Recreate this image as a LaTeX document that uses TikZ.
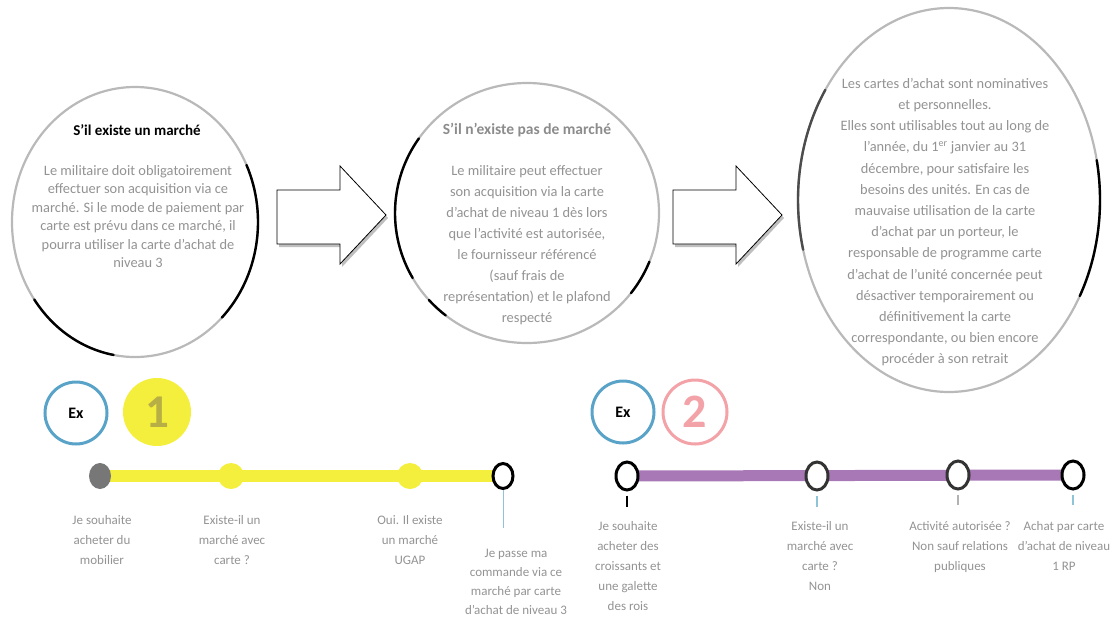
\documentclass[tikz,border=0pt]{standalone}
\usepackage{fontspec}
\setmainfont{Carlito}
\usetikzlibrary{shapes.geometric,backgrounds}

\definecolor{txtgray}{HTML}{939393}
\definecolor{exblue}{HTML}{5AA3C8}
\definecolor{yel}{HTML}{F4EE3C}
\definecolor{onecol}{HTML}{B7AE45}
\definecolor{pinkc}{HTML}{F3A2A8}
\definecolor{purp}{HTML}{A878B6}
\definecolor{dotgray}{HTML}{777777}
\definecolor{tickblue}{HTML}{8EC3D8}

\tikzset{
  bigcircle/.style={ellipse, draw=gray!55, line width=2.2pt, fill=white, inner sep=0},
  sketch/.style={black, line width=2.4pt, line cap=round},
  body/.style={font=\fontsize{14.4}{#1}\selectfont, text=txtgray, align=center, anchor=north, inner sep=0},
  lbl/.style={font=\fontsize{13}{20}\selectfont, text=txtgray, align=center, anchor=north, inner sep=0},
  exmark/.style={circle, draw=exblue, line width=3pt, minimum size=62pt, font=\fontsize{16}{18}\selectfont\bfseries},
  ydot/.style={circle, fill=yel, minimum size=26pt, inner sep=0},
  ring/.style={ellipse, draw=black, fill=white, line width=3pt, minimum width=22pt, minimum height=28pt, inner sep=0},
  tick/.style={line width=1.6pt}
}

\begin{document}
\begin{tikzpicture}[x=1pt, y=-1pt]
	\useasboundingbox (0,0) rectangle (1115,619);

	% the three bubbles
	\node[bigcircle, minimum width=246pt, minimum height=270pt] (c1) at (135,222) {};
	\node[bigcircle, minimum width=264pt, minimum height=260pt] (c2) at (527,213) {};
	\node[bigcircle, minimum width=302pt, minimum height=384pt] (c3) at (949,200) {};
	\draw[sketch] (135,222) ++(100:123 and 135) arc[start angle=100, end angle=145, x radius=123, y radius=135];
	\draw[sketch] (135,222) ++(-25:123 and 135) arc[start angle=-25, end angle=45, x radius=123, y radius=135];
	\draw[sketch] (527,213) ++(150:132 and 130) arc[start angle=150, end angle=215, x radius=132, y radius=130];
	\draw[sketch] (527,213) ++(128:132 and 130) arc[start angle=128, end angle=138, x radius=132, y radius=130];
	\draw[sketch] (527,213) ++(22:132 and 130) arc[start angle=22, end angle=38, x radius=132, y radius=130];
	\draw[sketch, black!70] (949,200) ++(165:151 and 192) arc[start angle=165, end angle=215, x radius=151, y radius=192];
	\draw[sketch] (949,200) ++(-12:151 and 192) arc[start angle=-12, end angle=30, x radius=151, y radius=192];

	\node[font=\fontsize{15}{17}\selectfont\bfseries, inner sep=0] (t1) at (137,130) {S'il existe un marché};
	\node[body=18.5pt] (b1) at (138,165) {Le militaire doit obligatoirement\\effectuer son acquisition via ce\\marché. Si le mode de paiement par\\carte est prévu dans ce marché, il\\pourra utiliser la carte d'achat de\\niveau 3};
	\node[font=\fontsize{15.5}{17}\selectfont\bfseries, text=gray!90, inner sep=0] (t2) at (527,130) {S'il n'existe pas de marché};
	\node[body=21pt] (b2) at (527,165) {Le militaire peut effectuer\\son acquisition via la carte\\d'achat de niveau 1 dès lors\\que l'activité est autorisée,\\le fournisseur référencé\\(sauf frais de\\représentation) et le plafond\\respecté};
	\node[body=21.2pt] (b3) at (945,78) {Les cartes d'achat sont nominatives\\et personnelles.\\Elles sont utilisables tout au long de\\l'année, du 1\textsuperscript{er} janvier au 31\\décembre, pour satisfaire les\\besoins des unités. En cas de\\mauvaise utilisation de la carte\\d'achat par un porteur, le\\responsable de programme carte\\d'achat de l'unité concernée peut\\désactiver temporairement ou\\définitivement la carte\\correspondante, ou bien encore\\procéder à son retrait};

	% block arrows between the bubbles
	\foreach \ax in {277,673} {
		\fill[gray!50] (\ax+2,193) -- (\ax+65,193) -- (\ax+65,169) -- (\ax+111,218) -- (\ax+65,267) -- (\ax+65,247) -- (\ax+2,247) -- cycle;
		\draw[fill=white, line width=0.8pt] (\ax,190) -- (\ax+63,190) -- (\ax+63,166) -- (\ax+109,215) -- (\ax+63,264) -- (\ax+63,244) -- (\ax,244) -- cycle;
	}

	% example 1
	\node[exmark] (ex1) at (76,413) {Ex};
	\node[circle, fill=yel, minimum size=68pt, text=onecol, font=\fontsize{47}{47}\selectfont\bfseries] (n1) at (157,412) {1};
	\node[ellipse, fill=dotgray, minimum width=22pt, minimum height=26pt, inner sep=0] (d1) at (100,476) {};
	\node[ydot] (d2) at (231,476) {};
	\node[ydot] (d3) at (410,476) {};
	\node[ring, minimum width=20pt, minimum height=25pt] (d4) at (503,476) {};
	\begin{scope}[on background layer]
		\draw[yel, line width=12pt] (d1.center) -- (d4.center);
	\end{scope}
	\coordinate (e4) at (503,528);
	\draw[tickblue, line width=1pt] (d4.south) -- (e4);
	\node[lbl] (l1) at (102,515) {Je souhaite\\acheter du\\mobilier};
	\node[lbl] (l2) at (232,515) {Existe-il un\\marché avec\\carte ?};
	\node[lbl] (l3) at (410,515) {Oui. Il existe\\un marché\\UGAP};
	\node[lbl, font=\fontsize{13}{19}\selectfont] (l4) at (516,549) {Je passe ma\\commande via ce\\marché par carte\\d'achat de niveau 3};

	% example 2
	\node[exmark] (ex2) at (623,412) {Ex};
	\node[circle, draw=pinkc, line width=3pt, minimum size=64pt, text=pinkc, font=\fontsize{48}{48}\selectfont\bfseries] (n2) at (695,412) {2};
	\node[ring] (r1) at (627,476) {};
	\node[ring, draw=black!80] (r2) at (817,476) {};
	\node[ring, draw=black!80] (r3) at (958,475) {};
	\node[ring] (r4) at (1073,475) {};
	\begin{scope}[on background layer]
		\draw[purp, line width=11pt] (r1.center) -- (r4.center);
	\end{scope}
	\coordinate (s1) at (627,507);
	\coordinate (s2) at (817,507);
	\coordinate (s3) at (958,505);
	\coordinate (s4) at (1073,505);
	\draw[tick, black] ([yshift=-4pt]r1.south) -- (s1);
	\draw[tick, tickblue] ([yshift=-4pt]r2.south) -- (s2);
	\draw[tick, gray!60] ([yshift=-4pt]r3.south) -- (s3);
	\draw[tick, tickblue] ([yshift=-4pt]r4.south) -- (s4);
	\node[lbl] (m1) at (628,521) {Je souhaite\\acheter des\\croissants et\\une galette\\des rois};
	\node[lbl] (m2) at (820,521) {Existe-il un\\marché avec\\carte ?\\Non};
	\node[lbl] (m3) at (960,521) {Activité autorisée ?\\Non sauf relations\\publiques};
	\node[lbl] (m4) at (1064,521) {Achat par carte\\d'achat de niveau\\1 RP};
\end{tikzpicture}
\end{document}
